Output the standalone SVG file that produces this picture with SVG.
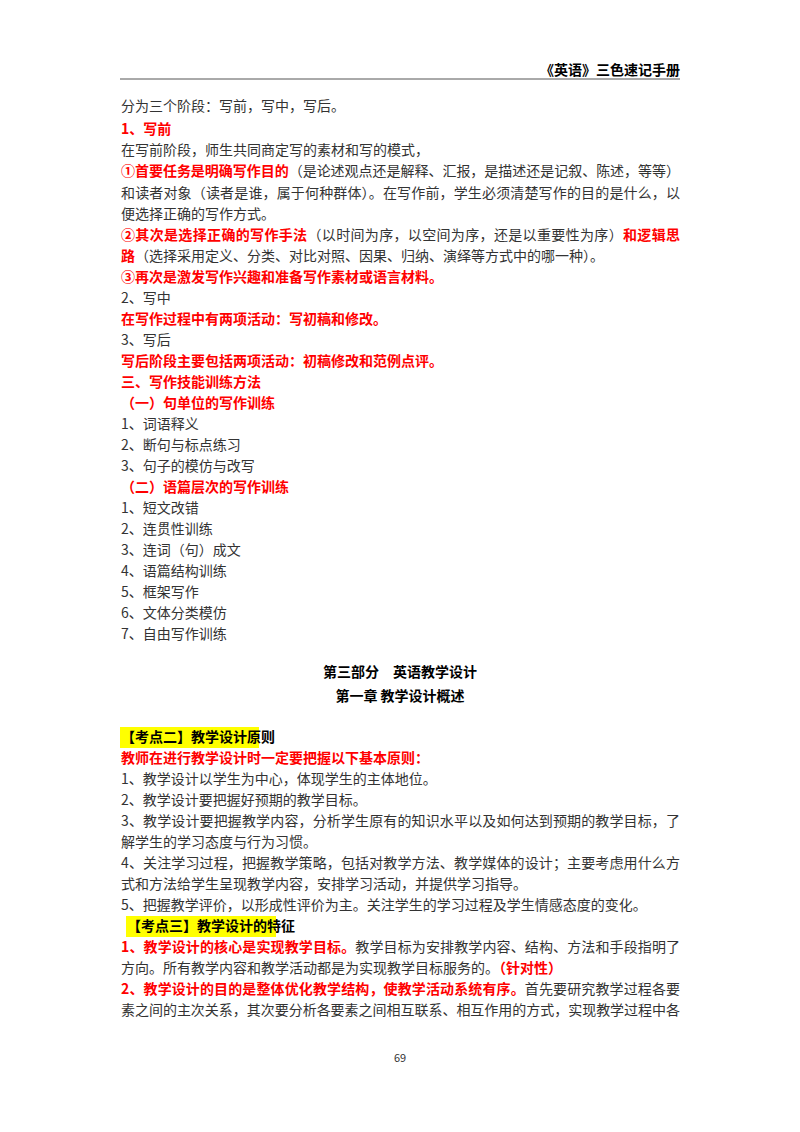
<svg xmlns="http://www.w3.org/2000/svg" width="800" height="1132" viewBox="0 0 800 1132">
<style>
text{font-family:"Noto Sans CJK SC","Noto Sans",sans-serif;font-size:14px;fill:#333}
.r{fill:#f00;font-weight:bold}
.b{font-weight:bold;fill:#000}
.k{fill:#000}
</style>
<rect width="800" height="1132" fill="#fff"/>
<g id="header">
<text x="680" y="75" text-anchor="end" class="b">《英语》三色速记手册</text>
<line x1="120" y1="79" x2="680" y2="79" stroke="#555" stroke-width="1"/>
</g>
<g id="body">
<text x="121" y="111">分为三个阶段：写前，写中，写后。</text>
<text x="121" y="134" class="r">1、写前</text>
<text x="121" y="155">在写前阶段，师生共同商定写的素材和写的模式，</text>
<text x="121" y="176" textLength="559" lengthAdjust="spacing"><tspan class="r">①首要任务是明确写作目的</tspan>（是论述观点还是解释、汇报，是描述还是记叙、陈述，等等）</text>
<text x="121" y="198" textLength="559" lengthAdjust="spacing">和读者对象（读者是谁，属于何种群体）。在写作前，学生必须清楚写作的目的是什么，以</text>
<text x="121" y="219">便选择正确的写作方式。</text>
<text x="121" y="240" textLength="559" lengthAdjust="spacing"><tspan class="r">②其次是选择正确的写作手法</tspan>（以时间为序，以空间为序，还是以重要性为序）<tspan class="r">和逻辑思</tspan></text>
<text x="121" y="261"><tspan class="r">路</tspan>（选择采用定义、分类、对比对照、因果、归纳、演绎等方式中的哪一种）。</text>
<text x="121" y="282" class="r">③再次是激发写作兴趣和准备写作素材或语言材料。</text>
<text x="121" y="303">2、写中</text>
<text x="121" y="324" class="r">在写作过程中有两项活动：写初稿和修改。</text>
<text x="121" y="345">3、写后</text>
<text x="121" y="366" class="r">写后阶段主要包括两项活动：初稿修改和范例点评。</text>
<text x="121" y="387" class="r">三、写作技能训练方法</text>
<text x="121" y="408" class="r">（一）句单位的写作训练</text>
<text x="121" y="429">1、词语释义</text>
<text x="121" y="450">2、断句与标点练习</text>
<text x="121" y="471">3、句子的模仿与改写</text>
<text x="121" y="492" class="r">（二）语篇层次的写作训练</text>
<text x="121" y="513">1、短文改错</text>
<text x="121" y="534">2、连贯性训练</text>
<text x="121" y="555">3、连词（句）成文</text>
<text x="121" y="576">4、语篇结构训练</text>
<text x="121" y="597">5、框架写作</text>
<text x="121" y="618">6、文体分类模仿</text>
<text x="121" y="639">7、自由写作训练</text>
<text x="400" y="677" text-anchor="middle" class="b">第三部分　英语教学设计</text>
<text x="400" y="701" text-anchor="middle" class="b">第一章  教学设计概述</text>
<rect x="120" y="727" width="139" height="21" fill="#ff0"/>
<text x="121" y="742" class="b">【考点二】教学设计原则</text>
<text x="121" y="763" class="r">教师在进行教学设计时一定要把握以下基本原则：</text>
<text x="121" y="784">1、教学设计以学生为中心，体现学生的主体地位。</text>
<text x="121" y="805">2、教学设计要把握好预期的教学目标。</text>
<text x="121" y="826" textLength="559" lengthAdjust="spacing">3、教学设计要把握教学内容，分析学生原有的知识水平以及如何达到预期的教学目标，了</text>
<text x="121" y="847">解学生的学习态度与行为习惯。</text>
<text x="121" y="868" textLength="559" lengthAdjust="spacing">4、关注学习过程，把握教学策略，包括对教学方法、教学媒体的设计；主要考虑用什么方</text>
<text x="121" y="889">式和方法给学生呈现教学内容，安排学习活动，并提供学习指导。</text>
<text x="121" y="910">5、把握教学评价，以形成性评价为主。关注学生的学习过程及学生情感态度的变化。</text>
<rect x="126" y="916" width="150" height="21" fill="#ff0"/>
<text x="127" y="931" class="b">【考点三】教学设计的特征</text>
<text x="121" y="952" textLength="559" lengthAdjust="spacing"><tspan class="r">1、教学设计的核心是实现教学目标。</tspan>教学目标为安排教学内容、结构、方法和手段指明了</text>
<text x="121" y="973">方向。所有教学内容和教学活动都是为实现教学目标服务的。<tspan class="r">（针对性）</tspan></text>
<text x="121" y="994" textLength="559" lengthAdjust="spacing"><tspan class="r">2、教学设计的目的是整体优化教学结构，使教学活动系统有序。</tspan>首先要研究教学过程各要</text>
<text x="121" y="1015" textLength="559" lengthAdjust="spacing">素之间的主次关系，其次要分析各要素之间相互联系、相互作用的方式，实现教学过程中各</text>
<text x="400" y="1062" text-anchor="middle" style="font-size:11px">69</text>
</g>
</svg>
